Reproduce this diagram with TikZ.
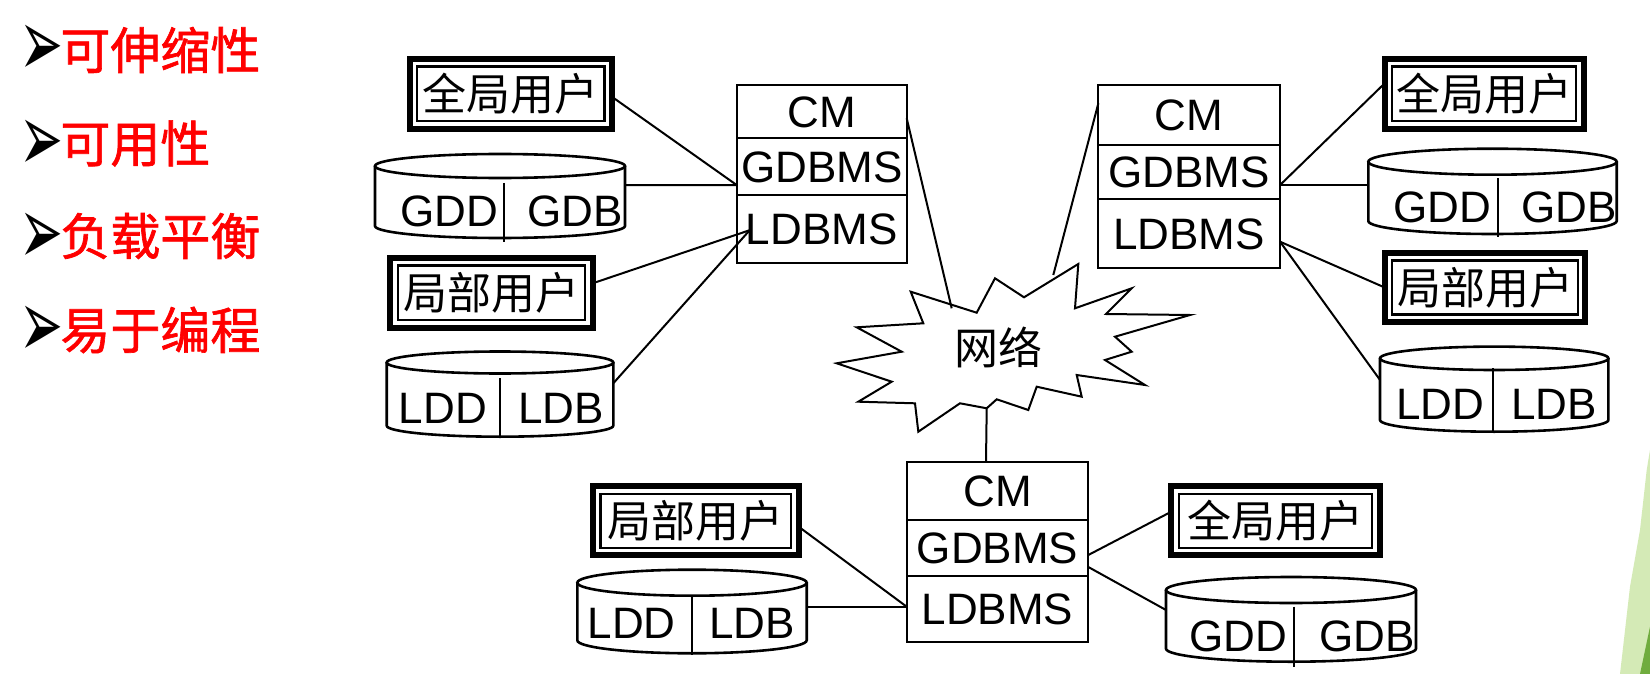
\documentclass[tikz,border=0pt]{standalone}
\usepackage{fontspec}
\usepackage{graphicx}
\setmainfont{Liberation Sans}
\newfontfamily\song{Noto Sans CJK SC}
\newfontfamily\hei{Noto Sans CJK SC}[FakeBold=1.3]
\newfontfamily\dejavu{DejaVu Sans}
\usetikzlibrary{calc}
\definecolor{leafL}{RGB}{212,234,182}
\definecolor{leafD}{RGB}{112,172,62}
\newcommand{\dbcyl}[6]{%
  \draw[cyl] ({#2-#3},#4) -- ({#2-#3},#5) arc[start angle=180, end angle=0, x radius=#3, y radius=#6] -- ({#2+#3},#4);
  \draw[cyl] (#2,#4) ellipse[x radius=#3, y radius=#6];
  \node[inner sep=0pt, outer sep=0pt, minimum width={#3*1pt}, minimum height={(#5-#4)*0.5pt}] (#1) at (#2,{(#4+#5)/2}) {};
}
\newcommand{\arrowbullet}{\makebox[15.5pt][l]{\resizebox*{22pt}{25.7pt}{\dejavu ➢}}}
\begin{document}
\begin{tikzpicture}[x=0.5pt,y=-0.5pt,
  ubox/.style={draw, line width=3pt, inner sep=0pt, outer sep=0pt, font=\song\fontsize{22}{24}\selectfont},
  cell/.style={draw, line width=1pt, inner sep=0pt, outer sep=0pt, font=\fontsize{22}{24}\selectfont, text height=15.75pt, text depth=0pt},
  lbl/.style={inner sep=0pt, font=\fontsize{22}{24}\selectfont, text height=15.75pt, text depth=0pt},
  item/.style={inner sep=0pt, anchor=west, text=red, font=\hei\fontsize{25}{28}\selectfont},
  bullet/.style={inner sep=0pt, font=\fontsize{22}{24}\selectfont},
  conn/.style={line width=1pt},
  cyl/.style={line width=1.3pt},
  divl/.style={line width=1pt},
  burst/.style={draw, line width=1pt, fill=white, line join=miter}
]
\useasboundingbox (0,0) rectangle (1650,674);
\fill[white] (0,0) rectangle (1650,674);

% decoration at right edge
\fill[leafL] (1650,450) -- (1646.7,470) -- (1640,530) -- (1630,586.7) -- (1620,674) -- (1650,674) -- cycle;
\fill[leafD] (1650,626.7) -- (1640,674) -- (1650,674) -- cycle;

% bullet list
\node[bullet] (b1) at (35.1,51.2) {\arrowbullet};
\node[item] (i1) at (60,50) {可伸缩性};
\node[bullet] (b2) at (35.1,146.2) {\arrowbullet};
\node[item] (i2) at (60,143.5) {可用性};
\node[bullet] (b3) at (35.1,239.2) {\arrowbullet};
\node[item] (i3) at (60,236) {负载平衡};
\node[bullet] (b4) at (35.1,332.2) {\arrowbullet};
\node[item] (i4) at (60,330) {易于编程};

% network burst
\draw[burst] (995,278.3) -- (1024,297.3) -- (1078.3,264) -- (1075,308.3) -- (1131.7,288.3) -- (1106,314) -- (1190,315) -- (1115,336.7) -- (1131.7,351.7) -- (1105,360) -- (1145,385) -- (1076.7,375) -- (1081.7,396.7) -- (1036.7,386.7) -- (1028.3,410) -- (996.7,399.3) -- (986.7,408.3) -- (960,403.3) -- (918.3,431.7) -- (915,403.3) -- (858.3,401.7) -- (891.7,381.7) -- (836.7,363.3) -- (901.7,351.7) -- (856.7,327.3) -- (923.3,323.3) -- (910.7,291.7) -- (976.7,312.7) -- cycle;
\node[font=\song\fontsize{22}{24}\selectfont, inner sep=0pt] (net) at (998,347) {网络};
\coordinate (bA) at (951.7,308.3);
\coordinate (bB) at (1053.3,275);
\coordinate (bC) at (986.7,408.3);

% site stacks
\node[cell, minimum width=85pt, minimum height=26.65pt] (cm1) at (821.7,111.7) {CM};
\node[cell, minimum width=85pt, minimum height=28.35pt] (gd1) at (821.7,166.7) {GDBMS};
\node[cell, minimum width=85pt, minimum height=34.15pt] (ld1) at (821.7,229.2) {LDBMS};

\node[cell, minimum width=90.85pt, minimum height=30pt] (cm2) at (1189.2,115) {CM};
\node[cell, minimum width=90.85pt, minimum height=27.15pt] (gd2) at (1189.2,172.2) {GDBMS};
\node[cell, minimum width=90.85pt, minimum height=34.2pt] (ld2) at (1189.2,233.5) {LDBMS};

\node[cell, minimum width=90.8pt, minimum height=29.15pt] (cm3) at (997.5,490.8) {CM};
\node[cell, minimum width=90.8pt, minimum height=27.85pt] (gd3) at (997.5,547.8) {GDBMS};
\node[cell, minimum width=90.8pt, minimum height=33.3pt] (ld3) at (997.5,609) {LDBMS};

% user boxes
\node[ubox, minimum width=101.15pt, minimum height=34.85pt] (gu1) at (510.8,93.8) {全局用户};
\node[ubox, minimum width=101.2pt, minimum height=34.85pt] (lu1) at (491.5,292.8) {局部用户};
\node[ubox, minimum width=99.5pt, minimum height=34.85pt] (gu2) at (1484.2,93.8) {全局用户};
\node[ubox, minimum width=100.3pt, minimum height=34.5pt] (lu2) at (1485,287.5) {局部用户};
\node[ubox, minimum width=102.85pt, minimum height=34.5pt] (lu3) at (695.8,520.8) {局部用户};
\node[ubox, minimum width=104.2pt, minimum height=34.5pt] (gu3) at (1275.5,520.8) {全局用户};
\foreach \n in {gu1,lu1,gu2,lu2,lu3,gu3}
  \draw[line width=1.25pt] ($(\n.north west)+(7.5,7.5)$) rectangle ($(\n.south east)+(-7.5,-7.5)$);

% databases
\dbcyl{gc1}{500}{125}{166}{226}{12}
\draw[divl] (504,183) -- (504,242);
\node[lbl] (gdd1) at (449,211) {GDD};
\node[lbl] (gdb1) at (575,211) {GDB};

\dbcyl{lc1}{500}{113.3}{362.5}{425.7}{11}
\draw[divl] (500,378) -- (500,438);
\node[lbl] (ldd1) at (443,408) {LDD};
\node[lbl] (ldb1) at (561,408) {LDB};

\dbcyl{gc2}{1492.5}{124.2}{161.7}{221}{13}
\draw[divl] (1498.3,178.3) -- (1498.3,236.7);
\node[lbl] (gdd2) at (1442.3,206.7) {GDD};
\node[lbl] (gdb2) at (1569,206.7) {GDB};

\dbcyl{lc2}{1494.2}{114.2}{358.3}{420}{11.7}
\draw[divl] (1492.7,368) -- (1492.7,432);
\node[lbl] (ldd2) at (1440,403.3) {LDD};
\node[lbl] (ldb2) at (1554,403.3) {LDB};

\dbcyl{lc3}{692}{114.7}{582.7}{640.3}{13}
\draw[divl] (691.7,596.7) -- (691.7,655);
\node[lbl] (ldd3) at (631.7,622.5) {LDD};
\node[lbl] (ldb3) at (752.3,622.5) {LDB};

\dbcyl{gc3}{1291}{125}{590}{648.7}{13}
\draw[divl] (1294,606.7) -- (1294,666.7);
\node[lbl] (gdd3) at (1238.3,635.8) {GDD};
\node[lbl] (gdb3) at (1366.7,635.8) {GDB};

% connectors, left site
\draw[conn] ($(gu1.east)+(0,3)$) -- ($(gd1.south west)+(0,-10)$);
\draw[conn] ($(gc1.east)+(0,-11)$) -- ($(gd1.south west)+(0,-10)$);
\draw[conn] ($(lu1.east)+(0,-9.5)$) -- ($(ld1.west)+(13,1)$);
\draw[conn] ($(lc1.east)+(0,-10.8)$) -- ($(ld1.west)+(13,1)$);
\draw[conn] ($(cm1.east)+(0,6.6)$) -- (bA);

% connectors, right site
\draw[conn] (bB) -- ($(cm2.west)+(0,-11.7)$);
\draw[conn] ($(gd2.east)+(0,12.8)$) -- ($(gu2.west)+(0,-10.5)$);
\draw[conn] ($(gd2.east)+(0,12.8)$) -- ($(gc2.west)+(0,-6.35)$);
\draw[conn] ($(ld2.east)+(0,8.2)$) -- (lu2.west);
\draw[conn] ($(ld2.east)+(0,8.2)$) -- ($(lc2.west)+(0,-9.2)$);

% connectors, bottom site
\draw[conn] (bC) -- ($(cm3.north)+(-11.5,0)$);
\draw[conn] ($(lu3.east)+(0,5.9)$) -- ($(ld3.west)+(0,-2.3)$);
\draw[conn] ($(lc3.east)+(0,-4.8)$) -- ($(ld3.west)+(0,-2.3)$);
\draw[conn] ($(gd3.east)+(0,7.2)$) -- ($(gu3.west)+(0,-9.1)$);
\draw[conn] ($(gd3.east)+(0,19.2)$) -- ($(gc3.west)+(0,-9.35)$);
\end{tikzpicture}
\end{document}
